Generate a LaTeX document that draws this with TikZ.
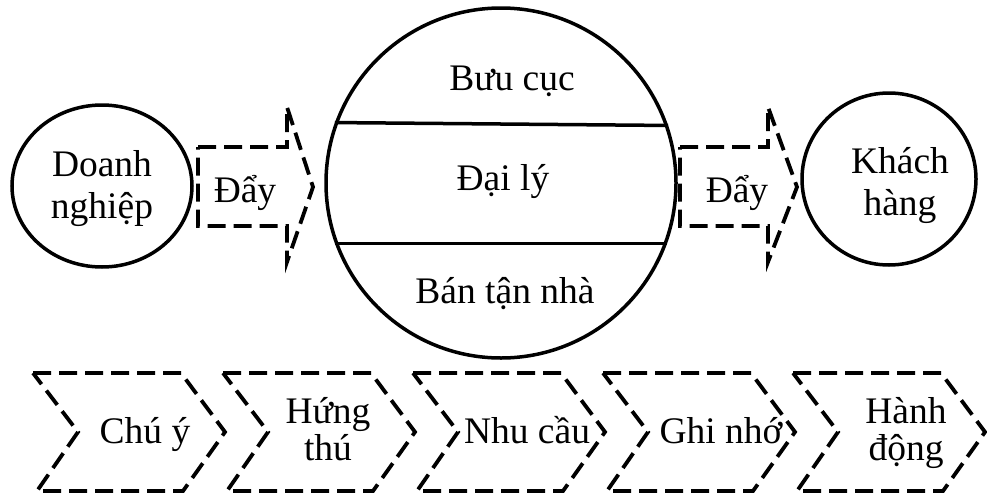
\documentclass[tikz,border=0pt]{standalone}
\usepackage{fontspec}
\setmainfont{Liberation Serif}
\usetikzlibrary{shapes.geometric}
\begin{document}
\begin{tikzpicture}[x=1pt,y=-1pt,
  solidline/.style={line width=3.5pt},
  dashline/.style={line width=3.8pt, dash pattern=on 18pt off 8pt, line join=miter},
  lbl/.style={font=\fontsize{37.5}{42}\selectfont, align=center, inner sep=0pt, anchor=base},
  lbltwo/.style={font=\fontsize{37.5}{37}\selectfont, align=center, inner sep=0pt, anchor=base},
]
\useasboundingbox (0,0) rectangle (987,498);

% side ellipses and the central circle
\node[ellipse, draw, solidline, minimum width=180pt, minimum height=162pt, inner sep=0pt] (doanh) at (102,186) {};
\node[ellipse, draw, solidline, minimum width=174pt, minimum height=172pt, inner sep=0pt] (khach) at (889,179) {};
\node[circle, draw, solidline, minimum size=350pt, inner sep=0pt] (big) at (501,183) {};

% chords splitting the central circle into three bands
\draw[solidline] (big.160.3) -- (big.19.7);
\draw[solidline] (big.200.75) -- (big.-20.75);

% dashed block arrows
\draw[dashline] (198,147) -- (287,147) -- (287,107) -- (313,187) -- (287,262) -- (287,226) -- (198,226) -- cycle;
\draw[dashline] (680,147) -- (768,147) -- (768,107) -- (797,187) -- (768,262) -- (768,226) -- (680,226) -- cycle;

% dashed chevrons along the bottom
\foreach \x in {33,223,413,603,793}{
  \draw[dashline] (\x,373) -- (\x+148,373) -- (\x+192,432) -- (\x+150,491) -- (\x+4,491) -- (\x+45,432) -- cycle;
}

% labels (two-line labels are placed by the baseline of their last line)
\node[lbl] (tdoanh) at (102,218) {Doanh\\nghiệp};
\node[lbl] (tkhach) at (900,215) {Khách\\hàng};
\node[lbl] (tday1) at (245,202) {Đẩy};
\node[lbl] (tday2) at (737,202) {Đẩy};
\node[lbl] (tbuu) at (512,90) {Bưu cục};
\node[lbl] (tdai) at (503,190) {Đại lý};
\node[lbl] (tban) at (505,303) {Bán tận nhà};

\node[lbltwo] (tchu) at (145,443) {Chú ý};
\node[lbltwo] (thung) at (328,460) {Hứng\\thú};
\node[lbltwo] (tnhu) at (527,443) {Nhu cầu};
\node[lbltwo] (tghi) at (721,443) {Ghi nhớ};
\node[lbltwo] (thanh) at (906,460) {Hành\\động};
\end{tikzpicture}
\end{document}
